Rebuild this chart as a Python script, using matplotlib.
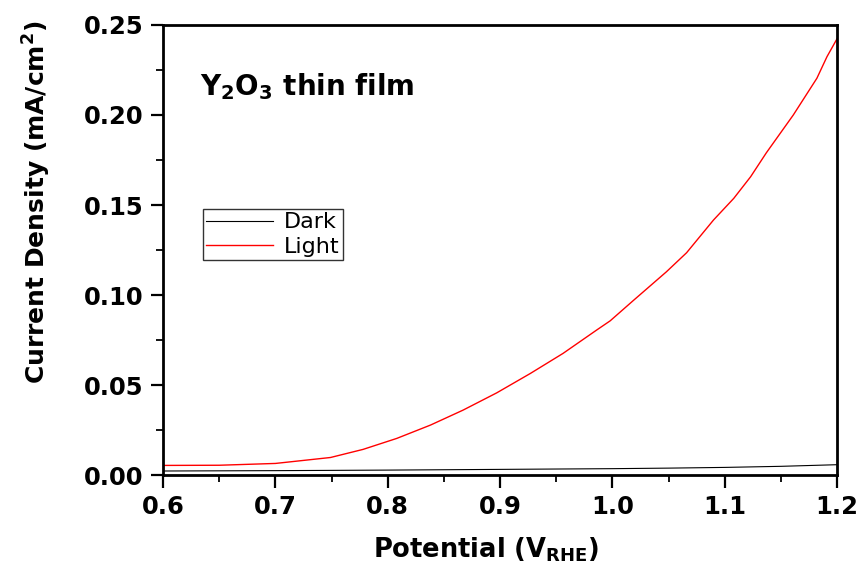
import matplotlib
matplotlib.use("Agg")
import matplotlib.pyplot as plt
from matplotlib.ticker import MultipleLocator

plt.rcParams['font.family'] = ['DejaVu Sans']

# potential (V vs RHE) and current density (mA/cm2)
dark_v = [0.60, 0.70, 0.80, 0.90, 1.00, 1.05, 1.10, 1.15, 1.20]
dark_j = [0.0023, 0.0025, 0.0028, 0.0032, 0.0036, 0.0039, 0.0043, 0.0049, 0.0058]

light_v = [0.60, 0.65, 0.70, 0.749, 0.778, 0.808, 0.838, 0.867, 0.897, 0.927,
           0.956, 0.986, 0.998, 1.019, 1.048, 1.066, 1.090, 1.108,
           1.123, 1.137, 1.161, 1.182, 1.191, 1.201]
light_j = [0.0054, 0.0055, 0.0065, 0.0098, 0.0143, 0.0204, 0.0278, 0.0361,
           0.0457, 0.0565, 0.0676, 0.0806, 0.0857, 0.0972, 0.1129, 0.1235,
           0.1417, 0.1537, 0.1657, 0.1790, 0.2000, 0.2204, 0.2324, 0.2435]

fig = plt.figure(figsize=(8.63, 5.67), dpi=100)
ax = fig.add_axes([0.189, 0.162, 0.781, 0.794])

ax.plot(dark_v, dark_j, color='black', lw=0.8, label='Dark')
ax.plot(light_v, light_j, color='red', lw=1.0, label='Light')

ax.set_xlim(0.6, 1.2)
ax.set_ylim(0, 0.25)
ax.xaxis.set_major_locator(MultipleLocator(0.1))
ax.xaxis.set_minor_locator(MultipleLocator(0.05))
ax.yaxis.set_major_locator(MultipleLocator(0.05))
ax.yaxis.set_minor_locator(MultipleLocator(0.025))
ax.tick_params(which='major', direction='out', length=9, width=1.6,
               labelsize=17.5, pad=5)
ax.tick_params(which='minor', direction='out', length=5, width=1.3)
ax.set_yticklabels(['%.2f' % t for t in ax.get_yticks()], fontweight='bold')
ax.set_xticklabels(['%.1f' % t for t in ax.get_xticks()], fontweight='bold')
for s in ax.spines.values():
    s.set_linewidth(2)

ax.set_xlabel(r'Potential $\mathregular{(V_{RHE})}$', fontsize=18.5,
              fontweight='bold')
ax.xaxis.set_label_coords(0.479, -0.133)
ax.set_ylabel(r'Current Density $\mathregular{(mA/cm^2)}$', fontsize=18,
              fontweight='bold')
ax.yaxis.set_label_coords(-0.163, 0.607)

ax.text(0.055, 0.845, r'$\mathregular{Y_2O_3}$ thin film', transform=ax.transAxes,
        fontsize=20, fontweight='bold')

leg = ax.legend(loc='upper left', bbox_to_anchor=(0.059, 0.591), fontsize=16,
                frameon=True, fancybox=False, handlelength=3.0,
                borderpad=0.15, labelspacing=0.2, handletextpad=0.5,
                borderaxespad=0)
leg.get_frame().set_edgecolor('black')
leg.get_frame().set_linewidth(1)

fig.savefig('out.png', dpi=100)
